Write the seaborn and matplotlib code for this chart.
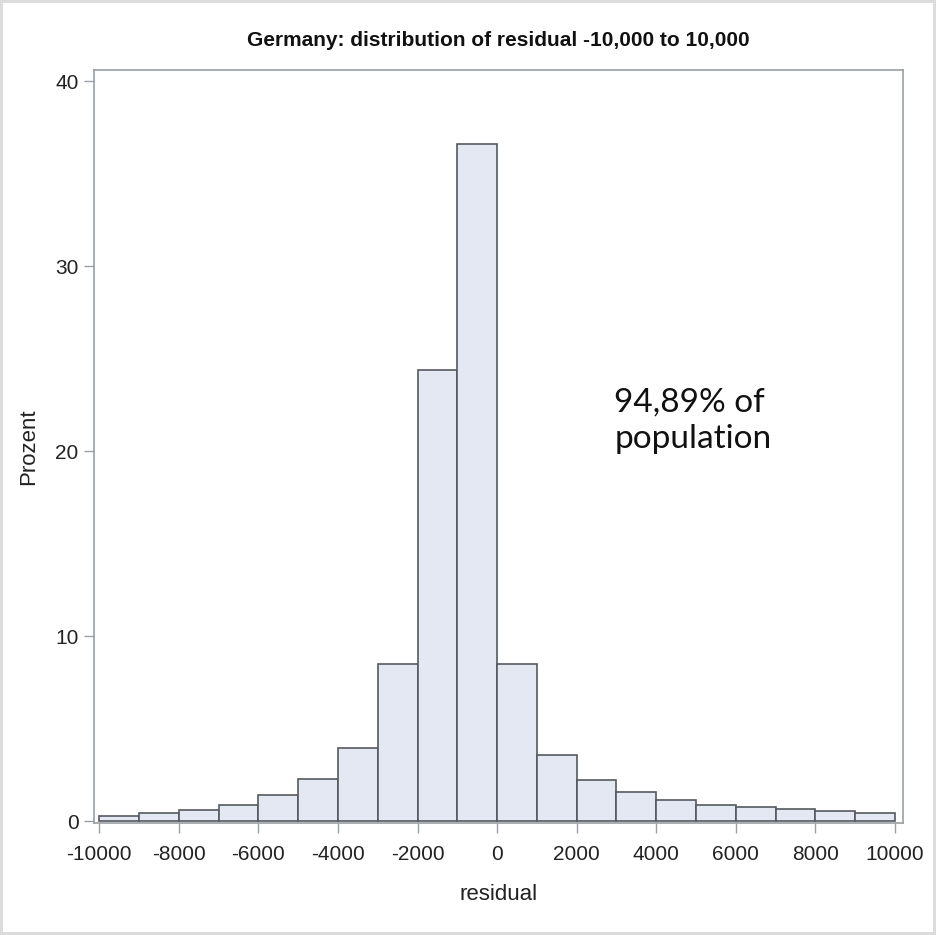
import matplotlib
matplotlib.use("Agg")
import matplotlib.pyplot as plt
from matplotlib import font_manager
import numpy as np
import seaborn as sns

# bin lower edges (residual) and share of population in percent
bin_start = [-10000, -9000, -8000, -7000, -6000, -5000, -4000, -3000, -2000, -1000,
             0, 1000, 2000, 3000, 4000, 5000, 6000, 7000, 8000, 9000]
percent = [0.27, 0.45, 0.60, 0.88, 1.40, 2.27, 3.95, 8.47, 24.4, 36.6,
           8.50, 3.60, 2.25, 1.55, 1.14, 0.88, 0.76, 0.63, 0.54, 0.45]
bin_width = 1000
x_ticks = [-10000, -8000, -6000, -4000, -2000, 0, 2000, 4000, 6000, 8000, 10000]
y_ticks = [0, 10, 20, 30, 40]

title = "Germany: distribution of residual -10,000 to 10,000"
note = "94,89% of\npopulation"

sns.set_theme(style="white")

names = {f.name for f in font_manager.fontManager.ttflist}
narrow = "Liberation Sans Narrow" if "Liberation Sans Narrow" in names else "Liberation Sans"
plt.rcParams["font.family"] = [narrow, "DejaVu Sans"]

fig = plt.figure(figsize=(9.36, 9.35), dpi=100)
fig.patch.set_edgecolor("#dcdcdc")
fig.patch.set_linewidth(3)
ax = fig.add_axes([94 / 936, 1 - 823 / 935, (903 - 94) / 936, (823 - 70) / 935])

centers = np.array(bin_start) + bin_width / 2
edges = list(bin_start) + [bin_start[-1] + bin_width]
sns.histplot(x=centers, weights=percent, bins=edges, ax=ax,
             color="#e3e8f2", edgecolor="#555a60", linewidth=1.2, alpha=1)

ax.set_xlim(-10130, 10200)
ax.set_ylim(-0.1, 40.6)
ax.set_xticks(x_ticks)
ax.set_xticklabels([str(v) for v in x_ticks])
ax.set_yticks(y_ticks)

for s in ax.spines.values():
    s.set_color("#9a9fa5")
    s.set_linewidth(1.2)

ax.tick_params(axis="both", which="major", length=7, width=1, color="#9a9fa5",
               labelsize=15, labelcolor="#222222", direction="out",
               bottom=True, left=True)
ax.tick_params(axis="x", pad=8.5)
ax.tick_params(axis="y", pad=4)

ax.set_title(title, fontsize=15, fontweight="bold", color="#111111", pad=17)
ax.set_xlabel("residual", fontsize=16, color="#222222", labelpad=15)
ax.set_ylabel("Prozent", fontsize=16, color="#222222", labelpad=12)

ax.text(0.643, 0.578, note, transform=ax.transAxes, fontsize=24,
        family=["Lato", "DejaVu Sans"], color="#111111",
        va="top", ha="left", linespacing=1.25)

fig.savefig("out.png", dpi=100)
